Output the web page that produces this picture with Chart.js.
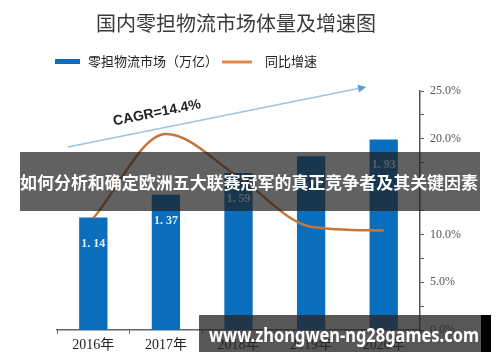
<!DOCTYPE html>
<html>
<head>
<meta charset="utf-8">
<script src="https://cdn.jsdelivr.net/npm/chart.js@4"></script>
<style>
  html,body{margin:0;padding:0;background:#fff;}
  #wrap{width:500px;height:362px;}
</style>
</head>
<body>
<div id="wrap"><canvas id="chart" width="500" height="362"></canvas></div>
<script>
const years = ['2016年','2017年','2018年','2019年','2020年'];
const marketSize = [1.14, 1.37, 1.59, 1.76, 1.93];
const growthRate = [11.7, 20.5, 16.0, 10.8, 10.4];
const rateTicks = [0, 5, 10, 15, 20, 25];

const titleText = '国内零担物流市场体量及增速图';
const cagrText = 'CAGR=14.4%';
const bannerText = '如何分析和确定欧洲五大联赛冠军的真正竞争者及其关键因素';
const siteText = 'www.zhongwen-ng28games.com';

const serif = "'Liberation Serif','Noto Sans CJK SC',serif";
const cjk = "'Noto Sans CJK SC',sans-serif";

// title, legend, CAGR arrow, bar labels, overlays
const decorations = {
  id:'decorations',
  afterDatasetsDraw(chart){
    const ctx = chart.ctx;
    const a = chart.chartArea;
    ctx.save();
    // title
    ctx.fillStyle = '#3a3a3a';
    ctx.font = '20px ' + cjk;
    ctx.textAlign = 'center';
    ctx.textBaseline = 'middle';
    ctx.fillText(titleText, 236, 23);

    // legend
    const ds = chart.data.datasets;
    ctx.font = '13px ' + cjk;
    ctx.textAlign = 'left';
    ctx.fillStyle = ds[0].backgroundColor;
    ctx.fillRect(55, 59, 25, 5);
    ctx.fillStyle = '#222';
    ctx.fillText(ds[0].label, 88, 61);
    ctx.strokeStyle = '#E0894A';
    ctx.lineWidth = 3;
    ctx.beginPath(); ctx.moveTo(222, 62); ctx.lineTo(252, 62); ctx.stroke();
    ctx.fillText(ds[1].label, 265, 61);

    // CAGR arrow
    const x0 = a.left + 0.03*(a.right-a.left), y0 = a.top + 0.234*(a.bottom-a.top);
    const x1 = a.left + 0.83*(a.right-a.left), y1 = a.top - 0.01*(a.bottom-a.top);
    ctx.strokeStyle = '#9cc3e0';
    ctx.lineWidth = 1.5;
    ctx.beginPath(); ctx.moveTo(x0, y0); ctx.lineTo(x1, y1); ctx.stroke();
    const ang = Math.atan2(y1-y0, x1-x0);
    ctx.fillStyle = '#5b9bd5';
    ctx.beginPath();
    ctx.moveTo(x1 + 8*Math.cos(ang), y1 + 8*Math.sin(ang));
    ctx.lineTo(x1 + 4*Math.sin(ang), y1 - 4*Math.cos(ang));
    ctx.lineTo(x1 - 4*Math.sin(ang), y1 + 4*Math.cos(ang));
    ctx.closePath(); ctx.fill();
    ctx.save();
    ctx.translate(157, 113);
    ctx.rotate(ang);
    ctx.fillStyle = '#222';
    ctx.font = 'bold 14px ' + "'Liberation Sans',sans-serif";
    ctx.textAlign = 'center';
    ctx.fillText(cagrText, 0, 0);
    ctx.restore();

    // bar value labels
    const meta = chart.getDatasetMeta(0);
    ctx.font = 'bold 12px ' + serif;
    ctx.fillStyle = '#dcefff';
    ctx.textAlign = 'center';
    meta.data.forEach((bar, i) => {
      const txt = marketSize[i].toFixed(2).replace('.', '. ');
      ctx.fillText(txt, bar.x, bar.y + 26);
    });

    // banner overlay
    ctx.fillStyle = 'rgba(30,30,30,0.7)';
    ctx.fillRect(20, 152, 460, 59);
    ctx.fillStyle = '#fff';
    ctx.font = 'bold 17px ' + cjk;
    ctx.fillText(bannerText, 249, 183, 458);

    // site overlay
    ctx.fillStyle = 'rgba(40,40,40,0.78)';
    ctx.fillRect(199, 315, 282, 37);
    ctx.fillStyle = '#000';
    ctx.fillRect(481, 315, 10, 37);
    ctx.fillStyle = '#fff';
    ctx.font = 'bold 20px ' + "'Noto Sans',sans-serif";
    ctx.fillText(siteText, 344, 336, 270);
    ctx.restore();
  }
};

new Chart(document.getElementById('chart'), {
  type:'bar',
  data:{
    labels:years,
    datasets:[{
      label:'零担物流市场（万亿）',
      data:marketSize,
      backgroundColor:'#0A6EBD',
      categoryPercentage:1,
      barPercentage:0.39,
      yAxisID:'y',
      order:2
    },{
      type:'line',
      label:'同比增速',
      data:growthRate,
      borderColor:'#C4773D',
      borderWidth:2.5,
      pointRadius:0,
      cubicInterpolationMode:'monotone',
      yAxisID:'y1',
      order:1
    }]
  },
  options:{
    responsive:false,
    animation:false,
    layout:{padding:{top:91, left:57, right:0, bottom:0}},
    plugins:{legend:{display:false}, title:{display:false}, tooltip:{enabled:false}},
    scales:{
      x:{
        grid:{drawOnChartArea:false, drawTicks:true, tickLength:4, color:'#666', offset:true},
        border:{display:true, color:'#666', width:1.5},
        ticks:{font:{family:serif, size:14}, color:'#222', padding:3},
        afterFit(s){ s.height = 32; }
      },
      y:{display:false, min:0, max:2.42},
      y1:{
        position:'right',
        min:rateTicks[0], max:rateTicks[rateTicks.length-1],
        grid:{drawOnChartArea:false, drawTicks:true, tickLength:4, color:'#555'},
        border:{display:true, color:'#555', width:1.5},
        ticks:{
          stepSize:2.5, autoSkip:false, padding:6,
          font:{family:serif, size:12}, color:'#555',
          callback:v => rateTicks.includes(v) ? v.toFixed(1) + '%' : ''
        },
        afterFit(s){ s.width = 80; }
      }
    }
  },
  plugins:[decorations]
});
</script>
</body>
</html>
